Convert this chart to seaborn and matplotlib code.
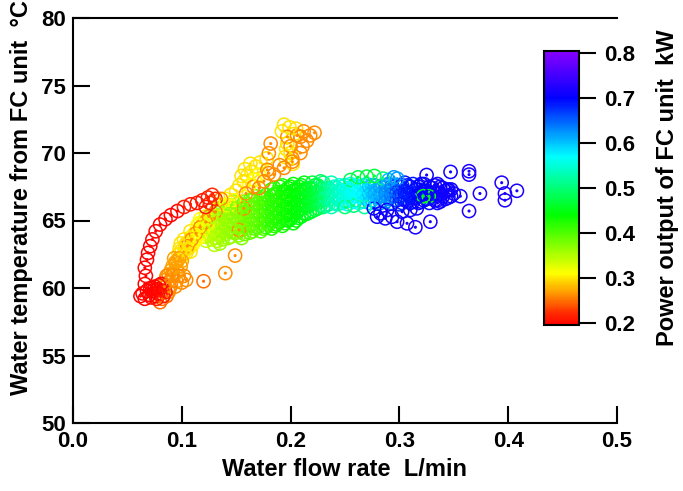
import numpy as np
import pandas as pd
import matplotlib
matplotlib.use("Agg")
import matplotlib.pyplot as plt
import seaborn as sns
from matplotlib.colors import LinearSegmentedColormap, Normalize
from matplotlib.cm import ScalarMappable

# ---------------- data ----------------
# yellow-green part of the main band
yg_x = [0.120,0.120, 0.125,0.125,0.125, 0.130,0.130,0.130,0.130,0.130, 0.135,0.135,0.135,0.135,0.135,
        0.140,0.140,0.140,0.140, 0.145,0.145,0.145,0.145,0.145, 0.150,0.150,0.150,0.150,
        0.155,0.155,0.155,0.155,0.155, 0.160,0.160,0.160,0.160, 0.165,0.165,0.165,0.165,0.165,
        0.170,0.170,0.170,0.170, 0.175,0.175,0.175,0.175,0.175, 0.180,0.180,0.180,0.180]
yg_y = [63.8,64.4, 63.9,64.5,65.0, 63.2,63.7,64.3,64.9,65.4, 63.3,63.9,64.5,65.1,65.6,
        64.0,64.6,65.2,65.8, 63.8,64.4,65.0,65.6,66.1, 64.1,64.7,65.3,65.9,
        63.7,64.3,64.9,65.5,66.1, 64.4,65.0,65.6,66.2, 64.2,64.8,65.4,66.0,66.5,
        64.5,65.1,65.7,66.3, 64.4,65.0,65.6,66.2,66.7, 64.7,65.3,65.9,66.5]
yg_p = [0.34,0.34, 0.35,0.35,0.35, 0.35,0.35,0.35,0.35,0.35, 0.36,0.36,0.36,0.36,0.36,
        0.36,0.36,0.36,0.36, 0.37,0.37,0.37,0.37,0.37, 0.37,0.37,0.37,0.37,
        0.38,0.38,0.38,0.38,0.38, 0.38,0.38,0.38,0.38, 0.39,0.39,0.39,0.39,0.39,
        0.40,0.40,0.40,0.40, 0.40,0.40,0.40,0.40,0.40, 0.41,0.41,0.41,0.41]
yg2_x = [0.1225,0.1225,0.1225, 0.1275,0.1275,0.1275,0.1275, 0.1325,0.1325,0.1325,0.1325,0.1325,
         0.1375,0.1375,0.1375,0.1375,0.1375, 0.1425,0.1425,0.1425,0.1425,0.1425,
         0.1475,0.1475,0.1475,0.1475,0.1475, 0.1525,0.1525,0.1525,0.1525,0.1525,
         0.1575,0.1575,0.1575,0.1575,0.1575, 0.1625,0.1625,0.1625,0.1625,0.1625,
         0.1675,0.1675,0.1675,0.1675,0.1675, 0.1725,0.1725,0.1725,0.1725,0.1725,
         0.1775,0.1775,0.1775,0.1775,0.1775]
yg2_y = [63.5,64.1,64.7, 63.6,64.2,64.8,65.3, 63.5,64.0,64.6,65.2,65.8,
         63.6,64.2,64.8,65.4,66.0, 63.7,64.3,64.9,65.5,66.1,
         64.1,64.7,65.3,65.9,66.4, 63.9,64.5,65.1,65.7,66.3,
         64.0,64.6,65.2,65.8,66.4, 64.1,64.7,65.3,65.9,66.5,
         64.4,65.0,65.6,66.2,66.8, 64.2,64.8,65.4,66.0,66.6,
         64.5,65.1,65.7,66.3,66.9]
yg2_p = [0.34,0.34,0.34, 0.35,0.35,0.35,0.35, 0.35,0.35,0.35,0.35,0.35,
         0.36,0.36,0.36,0.36,0.36, 0.36,0.36,0.36,0.36,0.36,
         0.37,0.37,0.37,0.37,0.37, 0.37,0.37,0.37,0.37,0.37,
         0.38,0.38,0.38,0.38,0.38, 0.39,0.39,0.39,0.39,0.39,
         0.39,0.39,0.39,0.39,0.39, 0.40,0.40,0.40,0.40,0.40,
         0.41,0.41,0.41,0.41,0.41]

# green part of the main band
gr_x = [0.185,0.185,0.185,0.185,0.185,0.185, 0.190,0.190,0.190,0.190,0.190,
        0.195,0.195,0.195,0.195,0.195, 0.200,0.200,0.200,0.200,0.200,
        0.205,0.205,0.205,0.205,0.205, 0.210,0.210,0.210,0.210,0.210,
        0.215,0.215,0.215,0.215, 0.220,0.220,0.220,0.220,0.220,
        0.225,0.225,0.225,0.225, 0.230,0.230,0.230,0.230, 0.235,0.235,0.235]
gr_y = [64.6,65.2,65.8,66.4,66.9,67.4, 64.9,65.5,66.1,66.7,67.5,
        64.8,65.4,66.0,66.6,67.1, 65.1,65.7,66.3,66.9,67.5,
        65.0,65.6,66.2,66.8,67.3, 65.3,65.9,66.5,67.1,67.6,
        65.5,66.1,66.7,67.3, 65.7,66.3,66.9,67.4,67.8,
        65.9,66.5,67.1,67.6, 66.0,66.6,67.2,67.8, 66.2,66.8,67.4]
gr_p = [0.42,0.42,0.42,0.42,0.42,0.42, 0.43,0.43,0.43,0.43,0.43,
        0.43,0.43,0.43,0.43,0.43, 0.44,0.44,0.44,0.44,0.44,
        0.44,0.44,0.44,0.44,0.44, 0.45,0.45,0.45,0.45,0.45,
        0.46,0.46,0.46,0.46, 0.47,0.47,0.47,0.47,0.47,
        0.48,0.48,0.48,0.48, 0.50,0.50,0.50,0.50, 0.52,0.52,0.52]
gr2_x = [0.1825,0.1825,0.1825,0.1825,0.1825,0.1825, 0.1875,0.1875,0.1875,0.1875,0.1875,
         0.1925,0.1925,0.1925,0.1925,0.1925,0.1925, 0.1975,0.1975,0.1975,0.1975,0.1975,
         0.2025,0.2025,0.2025,0.2025,0.2025,0.2025, 0.2075,0.2075,0.2075,0.2075,0.2075,
         0.2125,0.2125,0.2125,0.2125,0.2125, 0.2175,0.2175,0.2175,0.2175,
         0.2225,0.2225,0.2225,0.2225, 0.2275,0.2275,0.2275,0.2275, 0.2325,0.2325,0.2325]
gr2_y = [64.4,65.0,65.6,66.2,66.8,67.3, 64.7,65.3,65.9,66.5,67.1,
         64.6,65.2,65.8,66.4,67.0,67.6, 65.0,65.6,66.2,66.8,67.4,
         64.8,65.4,66.0,66.6,67.2,67.7, 65.2,65.8,66.4,67.0,67.5,
         65.5,66.1,66.7,67.3,67.8, 65.6,66.2,66.8,67.4,
         65.8,66.4,67.0,67.6, 66.1,66.7,67.3,67.9, 66.1,66.7,67.3]
gr2_p = [0.42,0.42,0.42,0.42,0.42,0.42, 0.42,0.42,0.42,0.42,0.42,
         0.43,0.43,0.43,0.43,0.43,0.43, 0.44,0.44,0.44,0.44,0.44,
         0.44,0.44,0.44,0.44,0.44,0.44, 0.45,0.45,0.45,0.45,0.45,
         0.45,0.45,0.45,0.45,0.45, 0.46,0.46,0.46,0.46,
         0.47,0.47,0.47,0.47, 0.49,0.49,0.49,0.49, 0.51,0.51,0.51]

# cyan part
cy_x = [0.240,0.240,0.240, 0.245,0.245,0.245, 0.250,0.250,0.250, 0.255,0.255,0.255,
        0.260,0.260,0.260, 0.265,0.265, 0.270,0.270,0.270]
cy_y = [66.3,66.9,67.5, 66.5,67.1,67.6, 66.4,67.0,67.6, 66.6,67.2,67.7,
        66.5,67.1,67.6, 66.7,67.3, 66.6,67.2,67.7]
cy_p = [0.54,0.54,0.54, 0.55,0.55,0.55, 0.56,0.56,0.56, 0.56,0.56,0.56,
        0.57,0.57,0.57, 0.58,0.58, 0.59,0.59,0.59]
cy2_x = [0.2375,0.2375,0.2375,0.2375, 0.2425,0.2425,0.2425, 0.2475,0.2475,0.2475,
         0.2525,0.2525,0.2525, 0.2575,0.2575,0.2575, 0.2625,0.2625,0.2625, 0.2675,0.2675,0.2675]
cy2_y = [66.0,66.6,67.2,67.8, 66.2,66.8,67.4, 66.3,66.9,67.5,
         66.2,66.8,67.4, 66.4,67.0,67.5, 66.3,66.9,67.5, 66.4,67.0,67.6]
cy2_p = [0.53,0.53,0.53,0.53, 0.54,0.54,0.54, 0.55,0.55,0.55,
         0.56,0.56,0.56, 0.57,0.57,0.57, 0.57,0.57,0.57, 0.58,0.58,0.58]

# light-blue part
lb_x = [0.275,0.275,0.275, 0.280,0.280, 0.285,0.285,0.285, 0.290,0.290,0.290, 0.295,0.295]
lb_y = [66.5,67.1,67.6, 66.7,67.3, 66.5,67.0,67.5, 66.6,67.2,67.7, 66.8,67.3]
lb_p = [0.60,0.60,0.60, 0.61,0.61, 0.62,0.62,0.62, 0.63,0.63,0.63, 0.65,0.65]
lb2_x = [0.2725,0.2725,0.2725, 0.2775,0.2775,0.2775, 0.2825,0.2825,0.2825,
         0.2875,0.2875,0.2875, 0.2925,0.2925,0.2925, 0.2975,0.2975,0.2975]
lb2_y = [66.3,66.9,67.5, 66.4,67.0,67.6, 66.3,66.9,67.5,
         66.4,67.0,67.6, 66.3,66.9,67.5, 66.5,67.1,67.6]
lb2_p = [0.60,0.60,0.60, 0.61,0.61,0.61, 0.62,0.62,0.62,
         0.63,0.63,0.63, 0.64,0.64,0.64, 0.66,0.66,0.66]

# blue body
bl_x = [0.300,0.300,0.300, 0.305,0.305,0.305, 0.310,0.310,0.310, 0.315,0.315,
        0.320,0.320,0.320, 0.325,0.325, 0.330,0.330, 0.335,0.335,0.335, 0.340,0.340,
        0.345,0.345, 0.350]
bl_y = [66.2,66.8,67.5, 66.5,67.1,67.8, 66.3,66.9,67.5, 66.7,67.3,
        66.4,67.0,67.7, 66.6,67.2, 66.8,67.4, 66.3,67.0,67.7, 66.8,67.4,
        66.7,67.3, 67.0]
bl_p = [0.68,0.68,0.68, 0.69,0.69,0.69, 0.69,0.69,0.69, 0.70,0.70,
        0.70,0.70,0.70, 0.70,0.70, 0.70,0.70, 0.71,0.71,0.71, 0.71,0.71,
        0.71,0.71, 0.71]
bl2_x = [0.3025,0.3025,0.3025, 0.3075,0.3075,0.3075, 0.3125,0.3125,0.3125,
         0.3175,0.3175,0.3175, 0.3225,0.3225,0.3225, 0.3275,0.3275,0.3275,
         0.3325,0.3325,0.3325, 0.3375,0.3375,0.3375, 0.3425,0.3425, 0.3475,0.3475]
bl2_y = [66.3,66.9,67.6, 66.4,67.0,67.6, 66.4,67.0,67.7,
         66.3,66.9,67.5, 66.5,67.1,67.7, 66.3,66.9,67.5,
         66.5,67.1,67.6, 66.4,67.0,67.5, 66.6,67.2, 66.8,67.3]
bl2_p = [0.68,0.68,0.68, 0.69,0.69,0.69, 0.69,0.69,0.69,
         0.70,0.70,0.70, 0.70,0.70,0.70, 0.70,0.70,0.70,
         0.71,0.71,0.71, 0.71,0.71,0.71, 0.71,0.71, 0.71,0.71]

# rings along the edges of the cyan / light-blue part
edge_x = [0.255,0.262,0.270,0.277,0.285,0.250,0.258,0.268,0.290,0.295,0.298]
edge_y = [68.0,68.2,68.25,68.3,68.1,66.0,66.1,66.0,68.0,68.2,68.1]
edge_p = [0.48,0.48,0.47,0.47,0.50,0.50,0.50,0.52,0.60,0.62,0.62]

# blue rings below the band
bllo_x = [0.2765,0.2826,0.2887,0.2933,0.2979,0.307,0.3147,0.3284,0.3025,0.310,0.316,0.2795,0.287]
bllo_y = [65.9,65.53,65.78,65.28,64.91,64.79,64.5,64.91,65.65,65.78,65.9,65.28,65.16]
bllo_p = [0.71,0.71,0.71,0.71,0.71,0.72,0.72,0.72,0.71,0.71,0.71,0.71,0.71]

# yellow, lower part of the band
ylo_x = [0.097,0.100,0.103,0.099,0.104,0.107,0.102,0.106,0.110,0.109,
         0.112,0.113,0.108,0.116,0.114,0.118,0.120,0.117,0.122,0.125,
         0.101,0.105,0.098,0.108,0.111,0.104,0.115,0.111,0.119,0.116,0.121,0.124]
ylo_y = [62.5,62.8,63.1,63.3,62.6,63.0,63.6,63.4,63.2,63.8,
         63.6,64.1,64.2,64.0,64.6,64.5,64.9,65.1,65.3,65.0,
         62.4,62.9,62.9,62.7,63.4,63.3,63.7,64.0,64.2,64.8,64.6,64.7]
ylo_p = [0.30,0.30,0.30,0.30,0.30,0.30,0.30,0.30,0.31,0.30,
         0.31,0.31,0.30,0.31,0.31,0.31,0.32,0.31,0.32,0.32,
         0.30,0.30,0.30,0.30,0.31,0.30,0.31,0.31,0.31,0.31,0.32,0.32]

# yellow, upper branch
yup_x = [0.135,0.140,0.145,0.150,0.153,0.157,0.160,0.164,0.168,0.172,
         0.158,0.163,0.155,0.167,0.171,0.162,0.148,0.143,0.178,0.196,
         0.192,0.203,0.194,0.199,0.205,0.197,0.200,0.202,0.195]
yup_y = [66.2,66.6,66.9,67.2,67.6,67.9,68.3,68.6,69.0,69.3,
         68.8,69.2,68.3,68.0,68.4,67.6,66.5,66.1,69.6,70.3,
         71.6,71.4,72.1,71.9,71.8,70.7,70.0,69.2,69.7]
yup_p = [0.31,0.31,0.30,0.30,0.30,0.30,0.30,0.30,0.30,0.30,
         0.30,0.30,0.30,0.31,0.31,0.31,0.31,0.31,0.30,0.30,
         0.30,0.30,0.30,0.30,0.30,0.30,0.30,0.30,0.30]

# orange, rising from the red cluster
oa_x = [0.082,0.086,0.088,0.084,0.087,0.085,0.088,0.090,0.0915,0.094,
        0.0975,0.090,0.095,0.100,0.104,0.092,0.096,0.099,0.093,0.100,0.080,
        0.089,0.094,0.091,0.095,0.097,0.086,0.102,0.096]
oa_y = [59.2,59.4,59.7,60.1,60.4,60.6,61.0,61.3,61.6,61.9,
        62.2,60.2,60.5,60.4,60.6,60.9,61.2,61.6,62.2,62.0,58.95,
        60.0,60.1,61.0,61.5,60.9,60.9,60.9,62.0]
oa_p = [0.25,0.25,0.26,0.26,0.26,0.26,0.26,0.27,0.27,0.27,
        0.27,0.26,0.26,0.26,0.26,0.26,0.27,0.27,0.27,0.27,0.25,
        0.26,0.26,0.26,0.27,0.26,0.26,0.26,0.27]

# orange rings inside the yellow part
ow_x = [0.113,0.117,0.122,0.125,0.109,0.105]
ow_y = [64.05,64.5,64.9,65.3,63.6,63.1]
ow_p = [0.26,0.26,0.26,0.26,0.26,0.26]

# orange, descending path
od_x = [0.212,0.215,0.218,0.222,0.209,0.206,0.197,0.200,0.211,0.2016,
        0.209,0.194,0.190,0.2016,0.1847,0.1786,0.180,0.1817,0.180,0.1755,
        0.171,0.166,0.159,0.157,0.1526,0.149,0.140,0.120,0.136,0.131]
od_y = [71.6,70.9,71.3,71.5,71.2,71.3,71.2,70.5,70.5,69.6,
        70.0,68.9,69.1,69.36,68.4,68.75,69.98,70.7,68.5,67.9,
        67.4,67.5,67.0,65.9,64.3,62.4,61.1,60.5,66.6,65.65]
od_p = [0.26,0.26,0.26,0.26,0.26,0.26,0.26,0.26,0.26,0.26,
        0.26,0.26,0.26,0.26,0.26,0.26,0.26,0.26,0.26,0.26,
        0.26,0.26,0.26,0.26,0.26,0.26,0.26,0.25,0.26,0.26]

# red cluster at the bottom
rc_x = [0.070,0.072,0.074,0.076,0.078,0.080,0.082,0.075,0.079,0.083,
        0.077,0.073,0.081,0.085,0.071,0.078,0.062,0.066,0.068,0.064]
rc_y = [59.5,59.3,59.8,59.4,59.9,59.6,59.8,60.1,60.2,59.4,
        59.2,60.0,60.3,59.7,59.9,59.6,59.4,59.2,59.8,59.6]
rc_p = [0.20,0.20,0.20,0.20,0.20,0.20,0.21,0.20,0.20,0.21,
        0.21,0.20,0.20,0.21,0.20,0.20,0.20,0.20,0.20,0.20]

# red loop
loop_x = [0.066,0.067,0.066,0.068,0.069,0.071,0.073,0.076,0.080,0.085,
          0.090,0.096,0.102,0.108,0.114,0.119,0.124,0.128,0.131,0.122,0.126]
loop_y = [60.3,60.9,61.5,62.1,62.6,63.1,63.6,64.2,64.7,65.1,
          65.4,65.7,66.0,66.2,66.3,66.5,66.7,66.9,66.6,66.0,66.3]
loop_p = [0.20,0.20,0.20,0.20,0.20,0.20,0.20,0.20,0.20,0.20,
          0.20,0.20,0.21,0.21,0.21,0.21,0.21,0.22,0.22,0.21,0.22]

# sparse blue rings at high flow
sp_x = [0.325,0.347,0.364,0.364,0.394,0.408,0.397,0.397,0.374,0.356,0.364,0.344,0.335]
sp_y = [68.37,68.6,68.65,68.4,67.8,67.2,67.0,66.5,67.0,66.8,65.7,67.26,66.5]
sp_p = [0.71,0.71,0.72,0.72,0.72,0.72,0.72,0.72,0.72,0.71,0.72,0.71,0.71]

# green rings inside the blue body
gb_x = [0.322,0.327]
gb_y = [66.8,66.8]
gb_p = [0.45,0.45]

x_ticks = [0.0, 0.1, 0.2, 0.3, 0.4, 0.5]
x_tick_labels = ["0.0", "0.1", "0.2", "0.3", "0.4", "0.5"]
y_ticks = [50, 55, 60, 65, 70, 75, 80]
cb_ticks = [0.2, 0.3, 0.4, 0.5, 0.6, 0.7, 0.8]
cb_tick_labels = ["0.2", "0.3", "0.4", "0.5", "0.6", "0.7", "0.8"]

# ---------------- build table (draw order = row order) ----------------
groups = [
    (yg_x, yg_y, yg_p), (yg2_x, yg2_y, yg2_p), (gr_x, gr_y, gr_p), (gr2_x, gr2_y, gr2_p),
    (cy_x, cy_y, cy_p), (cy2_x, cy2_y, cy2_p), (lb_x, lb_y, lb_p), (lb2_x, lb2_y, lb2_p),
    (bl_x, bl_y, bl_p), (bl2_x, bl2_y, bl2_p), (edge_x, edge_y, edge_p), (bllo_x, bllo_y, bllo_p),
    (ylo_x, ylo_y, ylo_p), (yup_x, yup_y, yup_p),
    (oa_x, oa_y, oa_p), (ow_x, ow_y, ow_p), (od_x, od_y, od_p),
    (rc_x, rc_y, rc_p), (loop_x, loop_y, loop_p),
    (sp_x, sp_y, sp_p), (gb_x, gb_y, gb_p),
]
frames = [pd.DataFrame({"flow": gx, "temp": gy, "power": gp}) for gx, gy, gp in groups]
df = pd.concat(frames, ignore_index=True)

# ---------------- style ----------------
sns.set_theme(style="white")
plt.rcParams["font.family"] = ["Liberation Sans", "DejaVu Sans"]
plt.rcParams["font.weight"] = "bold"
plt.rcParams["axes.labelweight"] = "bold"

vmin, vmax = 0.1955, 0.8045
anchors = [(vmin, "#ff0000"), (0.225, "#ff3300"), (0.26, "#ff8c00"), (0.31, "#ffff00"),
           (0.44, "#00ff00"), (0.57, "#00ffff"), (0.70, "#0000ff"), (vmax, "#8800ff")]
cmap = LinearSegmentedColormap.from_list(
    "fc", [((v - vmin) / (vmax - vmin), c) for v, c in anchors])
norm = Normalize(vmin=vmin, vmax=vmax)

W, H = 683, 491
fig = plt.figure(figsize=(W / 100, H / 100), dpi=100)
ax = fig.add_axes([73 / W, 1 - 423 / H, (617 - 73) / W, (423 - 18) / H])

# open circles
sns.scatterplot(data=df, x="flow", y="temp", hue="power", palette=cmap, hue_norm=norm,
                s=90, marker="o", linewidth=1.1, legend=False, ax=ax)
rings = ax.collections[-1]
cols = rings.get_facecolors()
rings.set_edgecolors(cols)
rings.set_facecolors("none")
# center dots
sns.scatterplot(data=df, x="flow", y="temp", hue="power", palette=cmap, hue_norm=norm,
                s=5, marker="o", linewidth=0, legend=False, ax=ax)

ax.set_xlim(0, 0.5)
ax.set_ylim(50, 80)
ax.set_xticks(x_ticks)
ax.set_xticklabels(x_tick_labels)
ax.set_yticks(y_ticks)
ax.tick_params(axis="both", direction="in", length=12, width=1.5, labelsize=16,
               colors="black", bottom=True, left=True)
ax.tick_params(axis="x", pad=6)
ax.tick_params(axis="y", pad=5)
for side in ["left", "bottom", "top"]:
    ax.spines[side].set_visible(True)
    ax.spines[side].set_color("black")
    ax.spines[side].set_linewidth(1.5)
ax.spines["right"].set_visible(False)
ax.set_xlabel("Water flow rate  L/min", fontsize=17, fontweight="bold", labelpad=4, color="black")
ax.set_ylabel("Water temperature from FC unit  °C", fontsize=17, fontweight="bold", color="black")
ax.yaxis.set_label_coords(-0.074, 0.556)

# colorbar
cax = fig.add_axes([544 / W, 1 - 325 / H, 35 / W, 274 / H])
sm = ScalarMappable(norm=norm, cmap=cmap)
cb = fig.colorbar(sm, cax=cax)
cb.set_ticks(cb_ticks)
cb.set_ticklabels(cb_tick_labels)
cb.ax.tick_params(length=12, width=1.5, labelsize=16, pad=6, colors="black", right=True)
cb.outline.set_linewidth(1.5)
cb.outline.set_edgecolor("black")
cb.set_label("Power output of FC unit  kW", fontsize=17, fontweight="bold", labelpad=15, color="black")

fig.savefig("out.png", dpi=100)
